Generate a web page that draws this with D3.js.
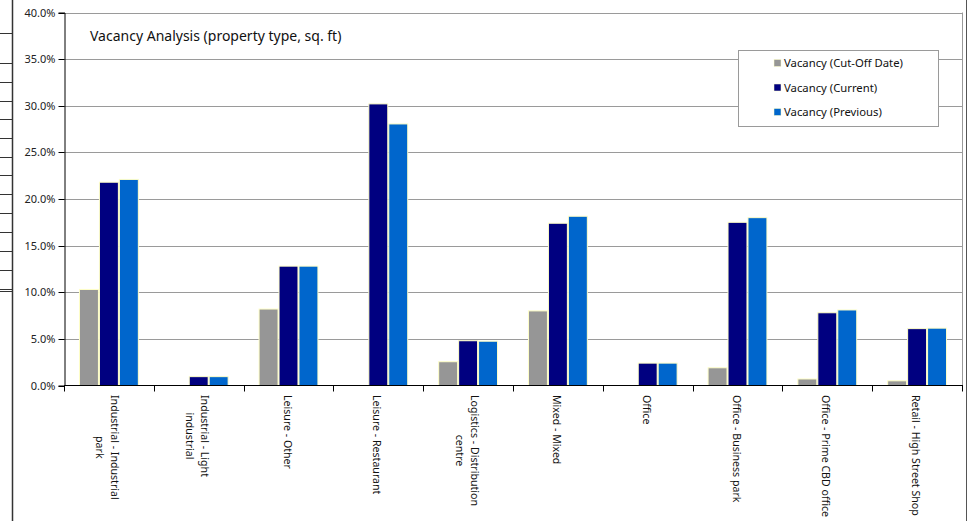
<!DOCTYPE html>
<html><head><meta charset="utf-8">
<script src="https://cdn.jsdelivr.net/npm/d3@7"></script>
<style>body{margin:0;background:#fff}svg{display:block}text{font-family:"Noto Sans",sans-serif}</style>
</head><body>
<svg id="c" width="969" height="521"></svg>
<script>
const categories = [
  "Industrial - Industrial\npark",
  "Industrial - Light\nindustrial",
  "Leisure - Other",
  "Leisure - Restaurant",
  "Logistics - Distribution\ncentre",
  "Mixed - Mixed",
  "Office",
  "Office - Business park",
  "Office - Prime CBD office",
  "Retail - High Street Shop"
];
const seriesNames = ["Vacancy (Cut-Off Date)", "Vacancy (Current)", "Vacancy (Previous)"];
const cutOff   = [10.3, 0, 8.2, 0, 2.55, 8.0, 0, 1.9, 0.7, 0.5];
const current  = [21.8, 0.95, 12.8, 30.2, 4.8, 17.4, 2.4, 17.5, 7.8, 6.1];
const previous = [22.1, 0.95, 12.8, 28.05, 4.75, 18.15, 2.4, 18.0, 8.1, 6.15];
const yTicks = [0, 5, 10, 15, 20, 25, 30, 35, 40];
const colors = ["#969696", "#000080", "#0066cc"];
const title = "Vacancy Analysis (property type, sq. ft)";

const series = [cutOff, current, previous];
const svg = d3.select("#c");
const L = 64, R = 962, T = 12.5, B = 385.5;

// outer frame lines (cut-off neighbouring objects)
svg.append("line").attr("x1",12.5).attr("x2",12.5).attr("y1",0).attr("y2",521).attr("stroke","#333").attr("stroke-width",1.5);
svg.append("line").attr("x1",966.5).attr("x2",966.5).attr("y1",0).attr("y2",521).attr("stroke","#555").attr("stroke-width",1);
const stubs = [33, 63, 82, 101, 119, 138, 157, 175, 194, 213, 232, 251, 270, 289];
svg.selectAll("line.stub").data(stubs).join("line").attr("class","stub")
  .attr("x1",0).attr("x2",12).attr("y1",d=>d+0.5).attr("y2",d=>d+0.5).attr("stroke","#333");
svg.append("line").attr("x1",0).attr("x2",12).attr("y1",291.5).attr("y2",291.5).attr("stroke","#333");

const x = d3.scaleBand().domain(d3.range(categories.length)).range([L, R]).paddingInner(0).paddingOuter(0);
const inner = d3.scaleBand().domain(d3.range(3)).range([0, x.bandwidth()]).paddingOuter(0.75).paddingInner(0);
const y = d3.scaleLinear().domain([0, 40]).range([B, T]);

// gridlines
svg.append("g").selectAll("line").data(yTicks.filter(d=>d>0)).join("line")
  .attr("x1",L).attr("x2",R).attr("y1",d=>Math.round(y(d))+0.5).attr("y2",d=>Math.round(y(d))+0.5)
  .attr("stroke","#9a9a9a").attr("stroke-width",1);
svg.append("line").attr("x1",R+0.5).attr("x2",R+0.5).attr("y1",T).attr("y2",B).attr("stroke","#9a9a9a");

// bars
const g = svg.append("g");
series.forEach((vals, si) => {
  g.selectAll("rect.s"+si).data(vals).join("rect").attr("class","s"+si)
    .attr("x", (d,i)=>x(i)+inner(si)+0.5)
    .attr("width", inner.bandwidth()-1)
    .attr("y", d=>y(d))
    .attr("height", d=>Math.max(0, B - y(d)))
    .attr("fill", colors[si])
    .attr("stroke", d=> d>0 ? "#ffffc8" : "none").attr("stroke-width",1);
});

// y axis
const ya = svg.append("g").attr("transform",`translate(${L+0.5},0)`)
  .call(d3.axisLeft(y).tickValues(yTicks).tickSize(6).tickPadding(3).tickFormat(d=>d.toFixed(1)+"%"));
ya.select(".domain").attr("stroke","#000");
ya.selectAll(".tick line").attr("stroke","#000");
ya.selectAll(".tick text").attr("font-size",11).attr("fill","#222").attr("font-family","Noto Sans");
ya.selectAll(".tick").attr("transform", d=>`translate(0,${Math.round(y(d))+0.5})`);

// x axis
const xa = svg.append("g").attr("transform",`translate(0,${B})`);
xa.append("line").attr("x1",L).attr("x2",R+1).attr("y1",0).attr("y2",0).attr("stroke","#000").attr("stroke-width",1.2);
xa.selectAll("line.t").data(d3.range(categories.length+1)).join("line").attr("class","t")
  .attr("x1",i=>Math.round(L + i*x.step())+0.5).attr("x2",i=>Math.round(L + i*x.step())+0.5)
  .attr("y1",0).attr("y2",6).attr("stroke","#000");

// x labels rotated 90deg
const fs = 10.6, lh = 15;
categories.forEach((c,i)=>{
  const lines = c.split("\n");
  const cx = x(i) + x.bandwidth()/2;
  const t = svg.append("text").attr("font-size",fs).attr("fill","#111").attr("text-anchor","middle");
  lines.forEach((ln,k)=>{
    t.append("tspan").attr("x",0).attr("dy", k===0?0:lh).text(ln);
  });
  let maxW = 0;
  t.selectAll("tspan").each(function(){ maxW = Math.max(maxW, this.getComputedTextLength()); });
  const n = lines.length;
  const ax = cx - 5 + (n-1)*lh/2;
  t.attr("transform",`translate(${ax},${B+9.5 + maxW/2}) rotate(90)`);
});

// title
svg.append("text").attr("x",90).attr("y",41).attr("font-size",14).attr("fill","#111").text(title);

// legend
const lg = svg.append("g");
lg.append("rect").attr("x",738.5).attr("y",50.5).attr("width",200).attr("height",76)
  .attr("fill","#fff").attr("stroke","#9a9a9a");
seriesNames.forEach((n,i)=>{
  const cy = 63 + i*24.5;
  lg.append("rect").attr("x",774).attr("y",cy-3.5).attr("width",7).attr("height",7).attr("fill",colors[i]).attr("stroke","#ffffc8").attr("stroke-width",0.5);
  lg.append("text").attr("x",784).attr("y",cy+4).attr("font-size",11.3).attr("fill","#111").text(n);
});
</script>
</body></html>
